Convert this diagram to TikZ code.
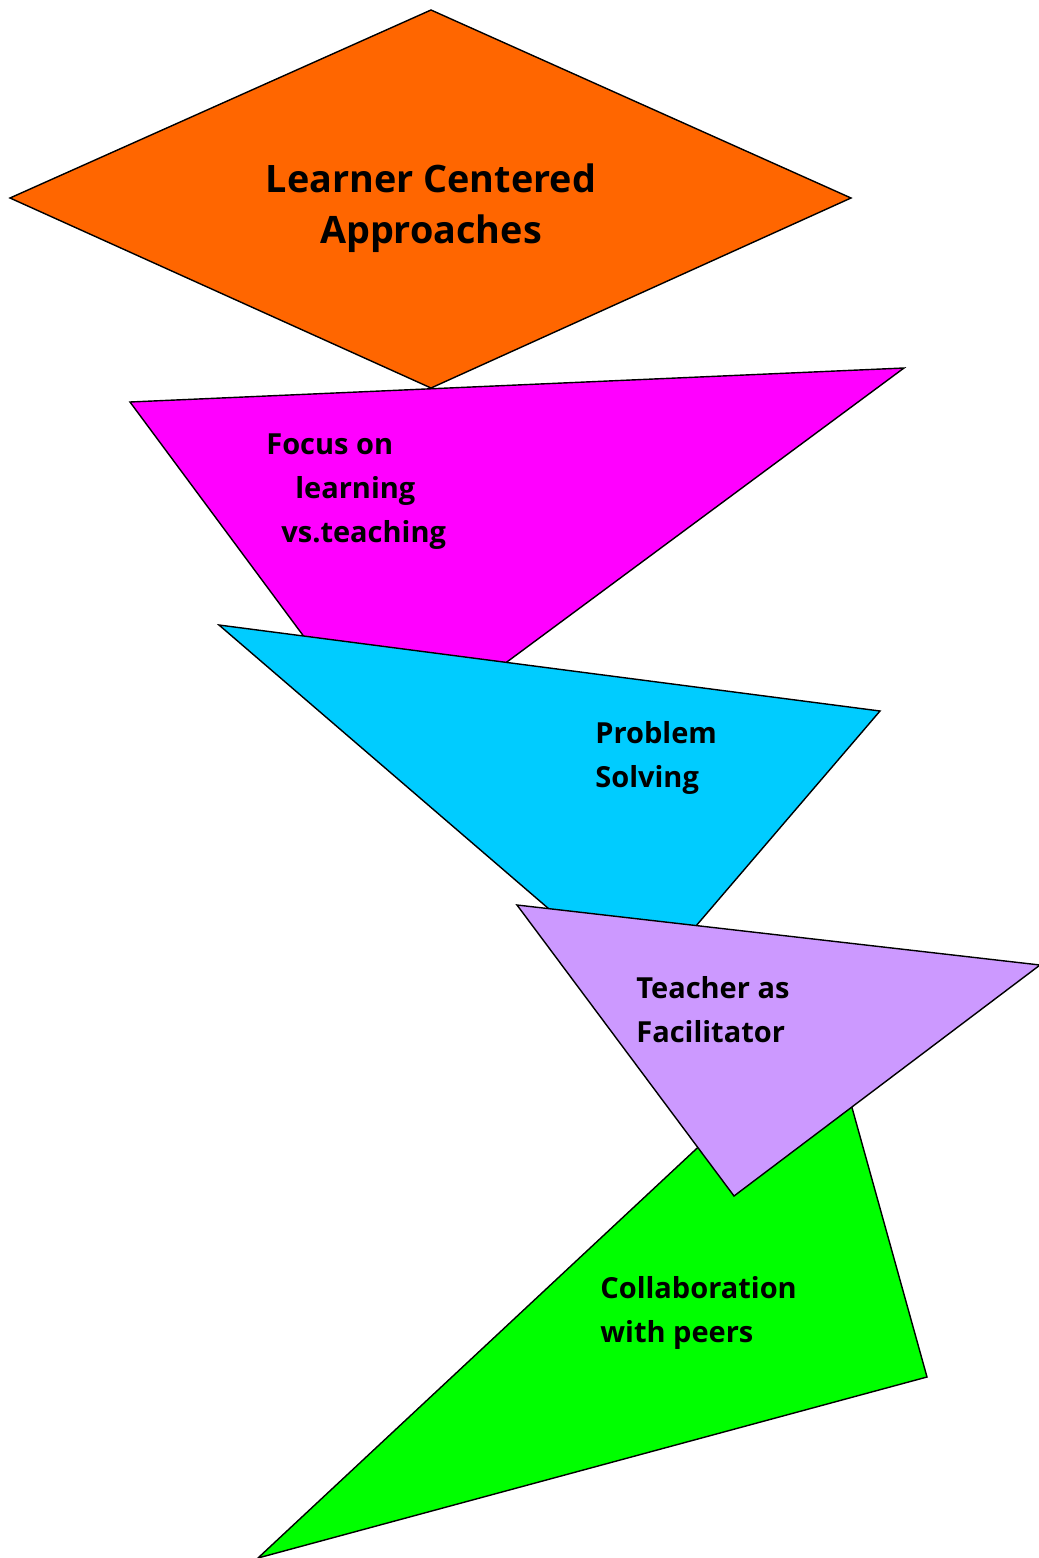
\documentclass[tikz,border=0pt]{standalone}
\usepackage{fontspec}
\setmainfont{Open Sans}
\usetikzlibrary{positioning}
\definecolor{lcorange}{HTML}{FF6600}
\definecolor{lcmagenta}{HTML}{FF00FF}
\definecolor{lccyan}{HTML}{00CCFF}
\definecolor{lclilac}{HTML}{CC99FF}
\definecolor{lcgreen}{HTML}{00FF00}
\tikzset{
  piece/.style={draw=black, line width=0.8pt, line join=miter},
  blocktext/.style={inner sep=0pt, align=left, anchor=base west,
    font=\fontsize{16.5}{25}\selectfont\bfseries},
  titletext/.style={inner sep=0pt, align=center, anchor=base,
    font=\fontsize{21.5}{28.5}\selectfont\bfseries}
}

\begin{document}
\begin{tikzpicture}[x=0.02cm, y=-0.02cm]
    \useasboundingbox (0,0) rectangle (1038,1558);
    % shapes, back to front
    \filldraw[piece, fill=lcorange] (431,10) -- (851,198) -- (431,388) -- (10,198) -- cycle;
    \filldraw[piece, fill=lcmagenta] (130,402) -- (904,368) -- (388,750) -- cycle;
    \filldraw[piece, fill=lccyan] (219,625) -- (880,711) -- (642,989) -- cycle;
    \filldraw[piece, fill=lcgreen] (829,1025) -- (927,1377) -- (258,1558) -- cycle;
    \filldraw[piece, fill=lclilac] (517,905) -- (1040,965) -- (734,1196) -- cycle;
    % texts (anchored at the baseline of the last line)
    \node[titletext] (title) at (431,243) {Learner Centered\\Approaches};
    \node[blocktext] (focus) at (266,542) {Focus on\\\hspace*{0.58cm}learning\\\hspace*{0.3cm}vs.teaching};
    \node[blocktext] (problem) at (595,787) {Problem\\Solving};
    \node[blocktext] (teacher) at (636,1042) {Teacher as\\Facilitator};
    \node[blocktext] (collab) at (600,1342) {Collaboration\\with peers};
\end{tikzpicture}
\end{document}
